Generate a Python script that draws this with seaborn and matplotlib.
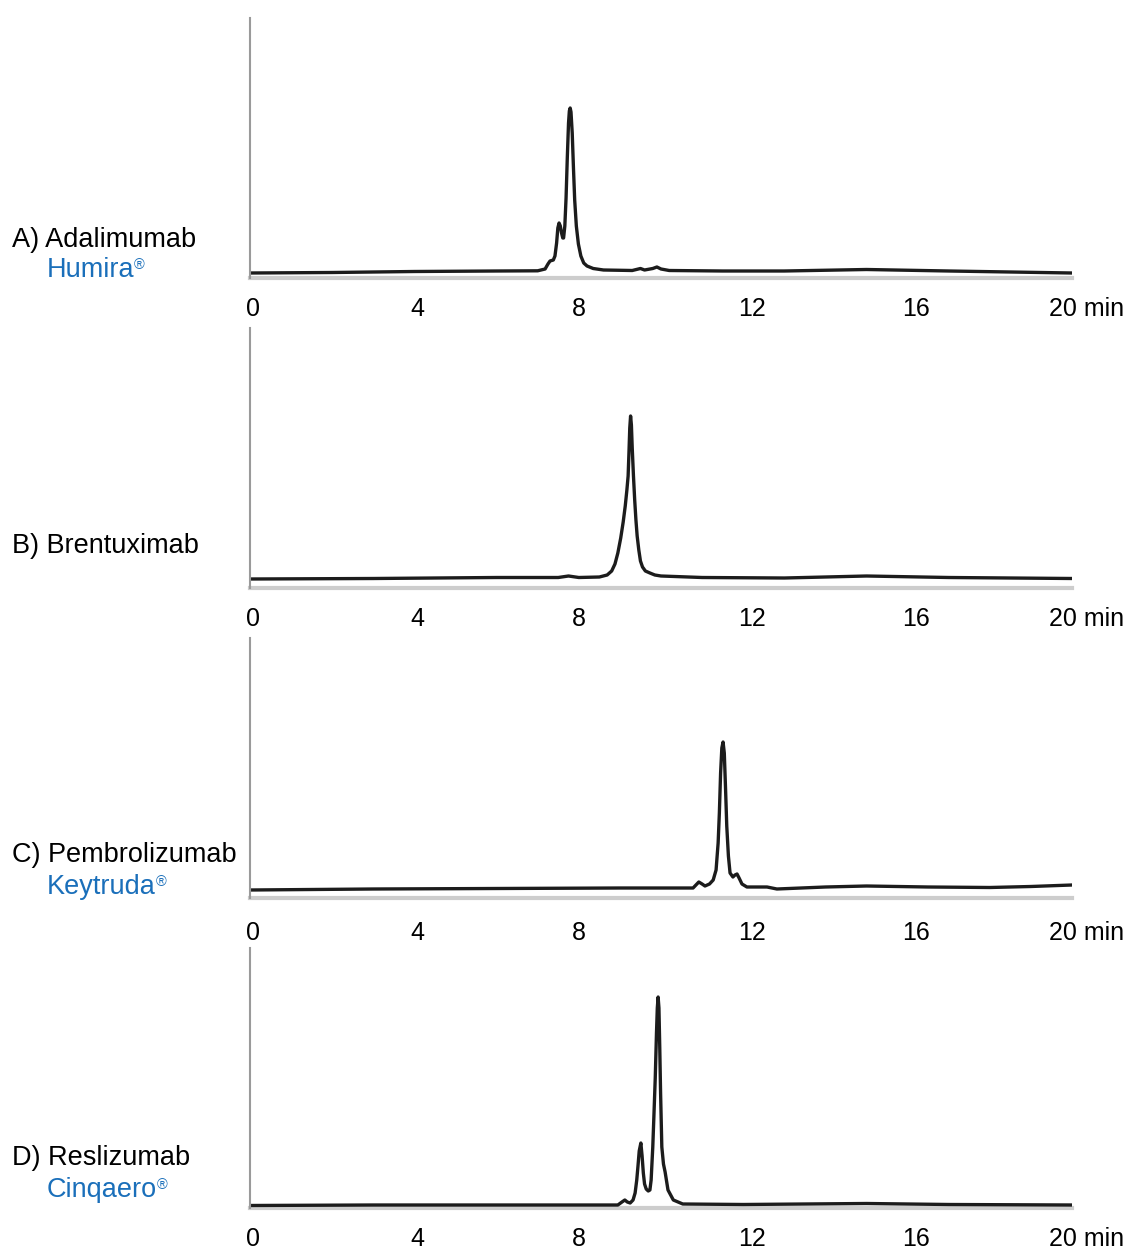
import matplotlib
matplotlib.use("Agg")
import matplotlib.pyplot as plt
import seaborn as sns
import pandas as pd
from matplotlib.transforms import ScaledTranslation

# Retention time (min) and detector signal (arbitrary units) for each antibody
time_a = [0, 2, 4, 6, 7.0, 7.18, 7.25, 7.30, 7.38, 7.42, 7.46, 7.49, 7.52, 7.55, 7.58,
          7.61, 7.63, 7.66, 7.69, 7.72, 7.75, 7.77, 7.79, 7.81, 7.84, 7.87, 7.90,
          7.94, 7.99, 8.05, 8.12, 8.2, 8.35, 8.6,
          9.3, 9.45, 9.5, 9.6, 9.8, 9.9, 10.0, 10.2, 11.5, 13, 15, 17, 18.5, 20]
signal_a = [5, 5.5, 6.5, 7, 7.2, 9, 14, 17, 18, 22, 35, 50, 55, 52, 45,
            40, 40, 52, 80, 120, 155, 167, 170, 166, 145, 110, 78,
            52, 34, 22, 15, 12, 9.5, 8,
            7.5, 9, 9.5, 8, 9.5, 11, 9, 7.5, 7, 7, 8.5, 7, 6, 5]

time_b = [0, 3, 6, 7.5, 7.75, 8.0, 8.5, 8.69, 8.8, 8.88, 8.95, 9.02, 9.08, 9.13, 9.17,
          9.2, 9.22, 9.24, 9.26, 9.28, 9.30, 9.33, 9.36, 9.39, 9.42, 9.46, 9.5,
          9.55, 9.62, 9.73, 9.85, 10.0, 11, 13, 15, 17, 20]
signal_b = [9, 9.5, 10.5, 10.5, 12, 10.5, 11, 13, 17, 24, 35, 50, 66, 82, 98,
            112, 135, 160, 172, 163, 140, 112, 88, 68, 52, 38, 27,
            21, 17, 15, 13, 12, 10.5, 10, 12, 10.5, 9.5]

time_c = [0, 3, 6, 9, 10.5, 10.78, 10.85, 10.92, 11.0, 11.07, 11.18, 11.27, 11.34,
          11.39, 11.42, 11.45, 11.48, 11.51, 11.54, 11.57, 11.60, 11.64, 11.68,
          11.75, 11.80, 11.85, 11.90, 11.97, 12.09, 12.58, 12.82, 14, 15, 16.5,
          18, 19, 20]
signal_c = [8, 9, 9.5, 10, 10, 10, 13, 16, 14, 12, 14, 18, 28,
            55, 85, 125, 150, 156, 145, 110, 72, 42, 25,
            21, 23, 24, 20, 14, 11, 11, 9, 11, 12, 11,
            10.5, 11.5, 13]

time_d = [0, 3, 6, 8.5, 8.95, 9.05, 9.12, 9.18, 9.25, 9.32, 9.37, 9.41, 9.44, 9.47,
          9.51, 9.54, 9.57, 9.60, 9.64, 9.69, 9.73, 9.76, 9.8, 9.83, 9.86, 9.89,
          9.91, 9.93, 9.95, 9.97, 9.99, 10.02, 10.06, 10.1, 10.17, 10.3, 10.53,
          12, 15, 17, 20]
signal_d = [2.5, 3, 3, 3, 3, 6, 8, 6, 5, 8, 15, 28, 42, 57,
            65, 52, 35, 24, 19, 17, 18, 28, 61, 95, 130, 175,
            200, 211, 200, 160, 115, 61, 44, 36, 18, 8, 4,
            3.5, 4.5, 3.5, 3]

panel_times = [time_a, time_b, time_c, time_d]
panel_signals = [signal_a, signal_b, signal_c, signal_d]
panel_names = ["A) Adalimumab", "B) Brentuximab", "C) Pembrolizumab", "D) Reslizumab"]
brand_names = ["Humira", None, "Keytruda", "Cinqaero"]
tick_values = [0, 4, 8, 12, 16, 20]
tick_labels = ["0", "4", "8", "12", "16", "20 min"]

W, H, DPI = 1130, 1252, 100
sns.set_theme(style="white")
plt.rcParams["font.family"] = ["Liberation Sans", "DejaVu Sans"]

fig = plt.figure(figsize=(W / DPI, H / DPI), dpi=DPI)
fig.patch.set_facecolor("white")

axis_left_px, axis_right_px = 250, 1072
axis_height_px = 260
axis_bottoms_px = [278, 588, 898, 1208]
name_baselines_px = [247, 553, 862, 1165]
brand_baselines_px = [277, None, 894, 1197]
tick_pads = [10, 10, 12.5, 10]
label_dx_px = [3, 3, 0, 9, 8, 15]

blue = "#1a6fba"
spine_grey = "#9a9a9a"
axis_grey = "#cdcdcd"

for i in range(4):
    bottom_px = axis_bottoms_px[i]
    ax = fig.add_axes([axis_left_px / W, 1 - bottom_px / H,
                       (axis_right_px - axis_left_px) / W, axis_height_px / H])
    df = pd.DataFrame({"time": panel_times[i], "signal": panel_signals[i]})
    sns.lineplot(data=df, x="time", y="signal", ax=ax, color="#1c1c1c",
                 linewidth=2.4, estimator=None, sort=False)
    ax.lines[-1].set_solid_joinstyle("round")
    ax.lines[-1].set_solid_capstyle("round")
    ax.set_xlim(0, 20)
    ax.set_ylim(0, axis_height_px)
    ax.set_xlabel("")
    ax.set_ylabel("")
    ax.set_yticks([])
    ax.set_facecolor("none")
    for side in ("top", "right"):
        ax.spines[side].set_visible(False)
    ax.spines["left"].set_color(spine_grey)
    ax.spines["left"].set_linewidth(1.5)
    ax.spines["bottom"].set_color(axis_grey)
    ax.spines["bottom"].set_linewidth(3.0)
    ax.spines["bottom"].set_zorder(0)
    ax.set_xticks(tick_values)
    ax.set_xticklabels(tick_labels)
    ax.tick_params(axis="x", direction="out", length=4, width=1.3,
                   color=spine_grey, labelsize=18, labelcolor="black",
                   pad=tick_pads[i])
    for lab, dx in zip(ax.get_xticklabels(), label_dx_px):
        lab.set_transform(lab.get_transform() +
                          ScaledTranslation(dx / DPI, 0, fig.dpi_scale_trans))

    fig.text(12 / W, 1 - name_baselines_px[i] / H, panel_names[i],
             fontsize=19.5, color="black", ha="left", va="baseline")
    if brand_names[i]:
        t = fig.text(47 / W, 1 - brand_baselines_px[i] / H, brand_names[i],
                     fontsize=19.5, color=blue, ha="left", va="baseline")
        renderer = fig.canvas.get_renderer()
        bb = t.get_window_extent(renderer=renderer)
        fig.text((bb.x1 - 0.5) / W, 1 - (brand_baselines_px[i] - 8) / H, "®",
                 fontsize=10.5, color=blue, ha="left", va="baseline")

fig.savefig("out.png", dpi=DPI, facecolor="white")
